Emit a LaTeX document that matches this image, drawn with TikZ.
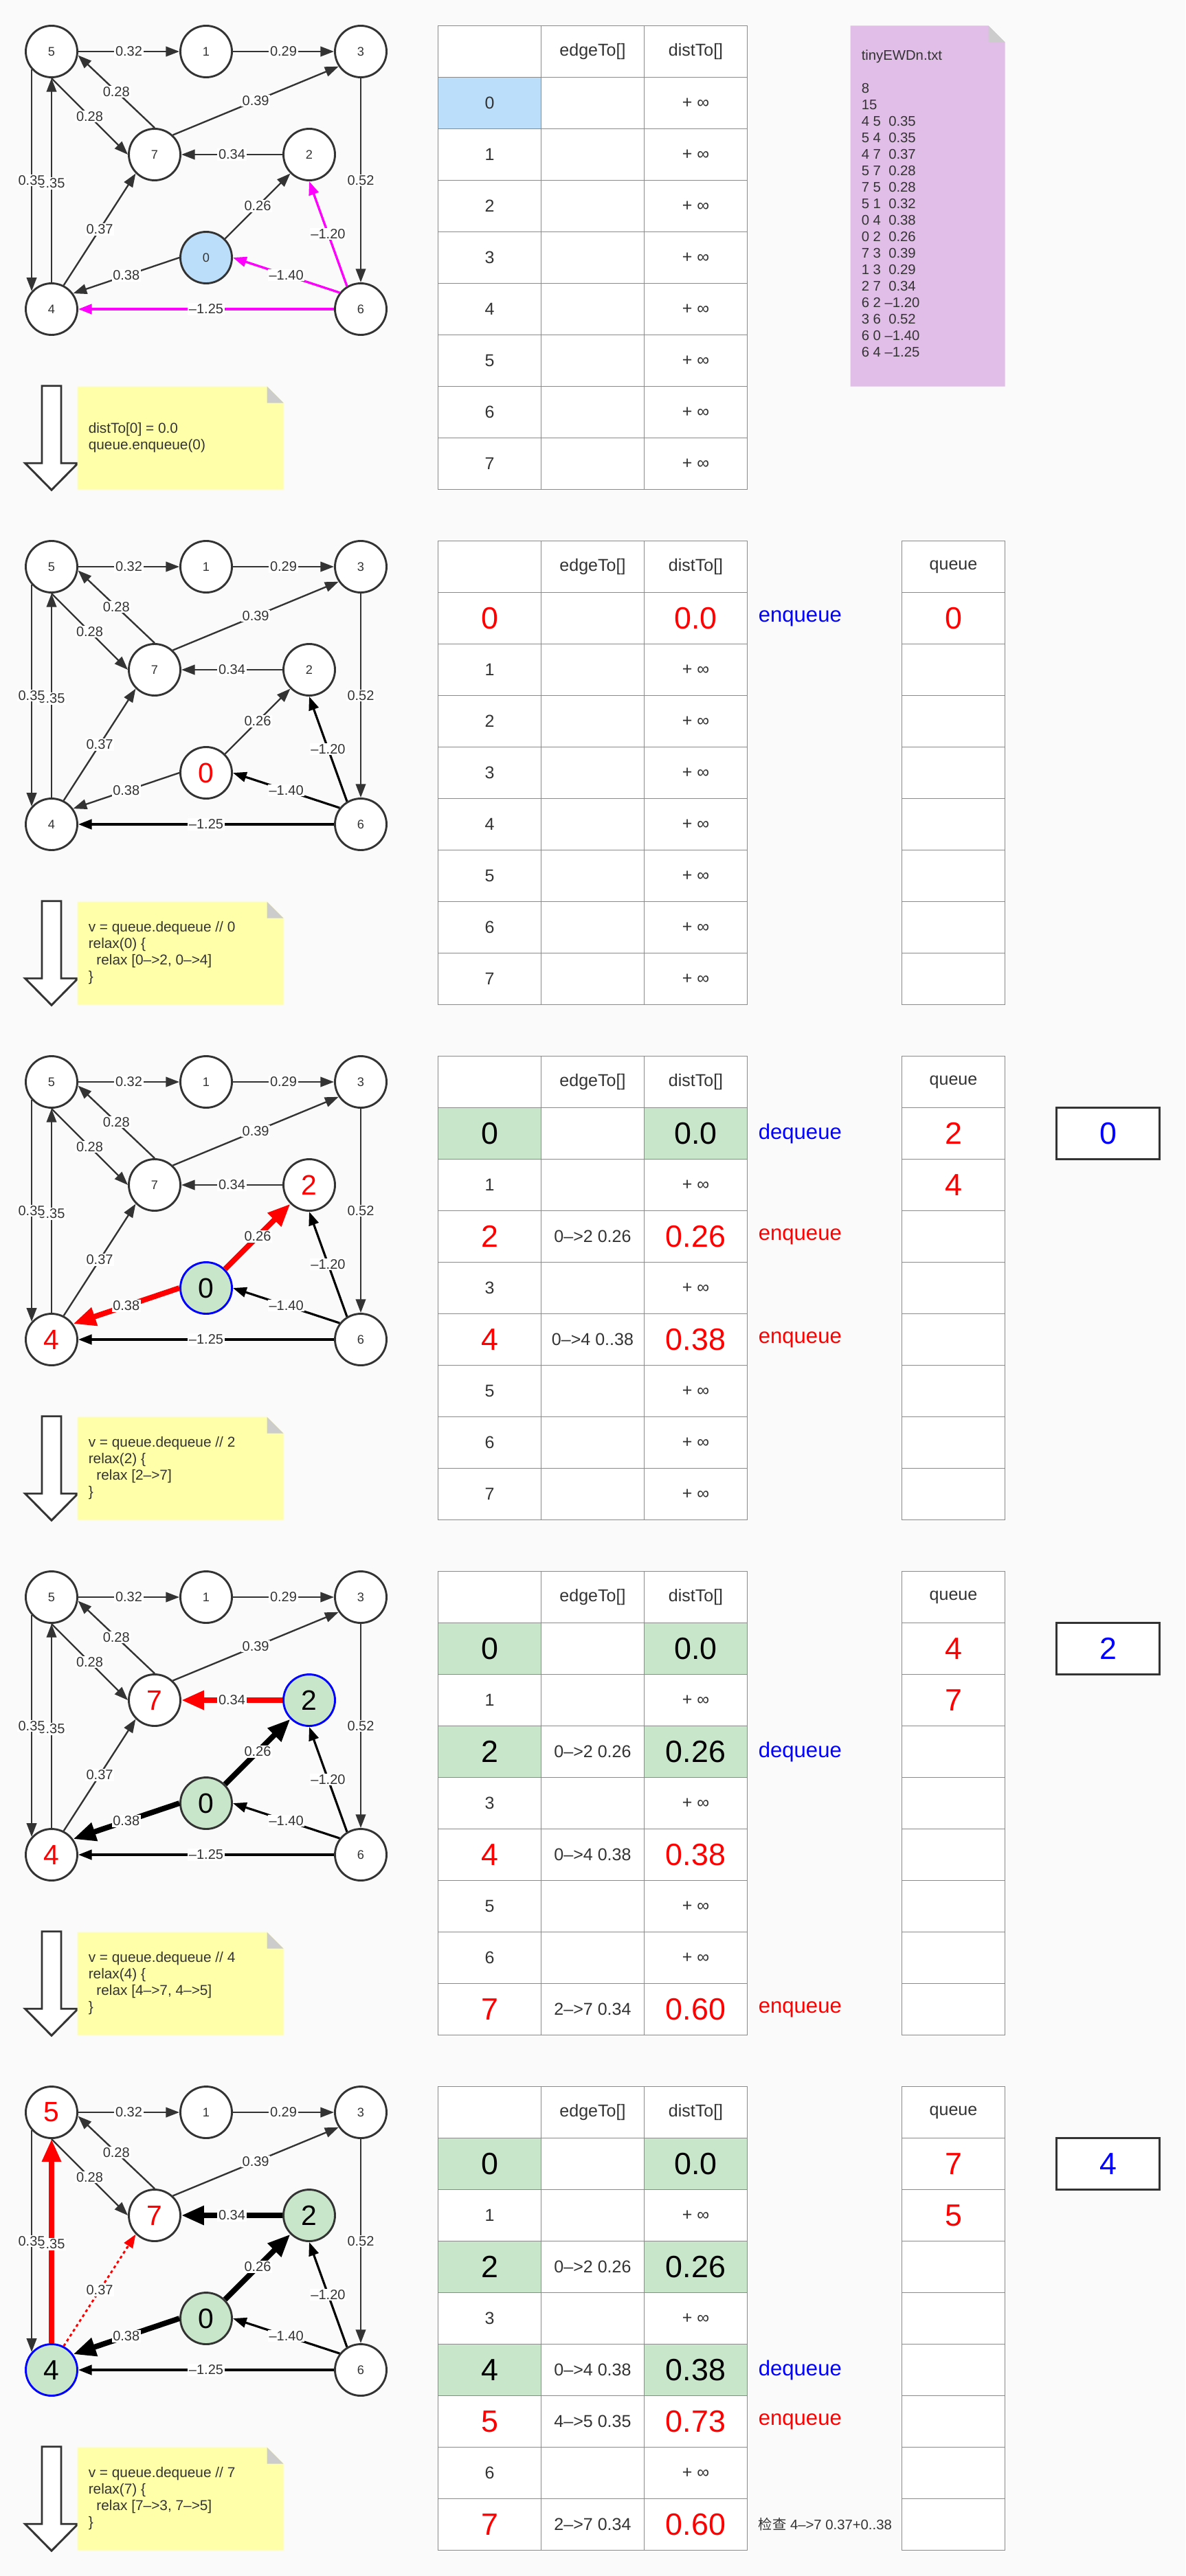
\documentclass[tikz,border=0pt]{standalone}
\usepackage{fontspec}
\setmainfont{Liberation Sans}
\newfontfamily\cjk{Noto Sans CJK SC}
\usetikzlibrary{arrows.meta}

\definecolor{bgc}{HTML}{FAFAFA}
\definecolor{textc}{HTML}{333333}
\definecolor{linec}{HTML}{333333}
\definecolor{gridc}{HTML}{8A8A8A}
\definecolor{startfill}{HTML}{BBDEFB}
\definecolor{donefill}{HTML}{C8E6C9}
\definecolor{notey}{HTML}{FFFFAA}
\definecolor{notep}{HTML}{E1BEE7}
\definecolor{foldc}{HTML}{CCCCCC}
\definecolor{mag}{HTML}{FF00FF}

\newcommand\vtxt{\fontsize{6.9}{8}\selectfont}
\newcommand\lbltxt{\fontsize{7.6}{9}\selectfont}
\newcommand\notetxt{\fontsize{7.9}{9.1}\selectfont}
\newcommand\filetxt{\fontsize{7.7}{9.1}\selectfont}
\newcommand\tabtxt{\fontsize{9.5}{11}\selectfont}
\newcommand\bigtxt{\fontsize{17}{20}\selectfont}
\newcommand\vbigtxt{\fontsize{15.5}{18}\selectfont}
\newcommand\acttxt{\fontsize{11.8}{14}\selectfont}
\newcommand\cntxt{\fontsize{7.7}{9}\selectfont}
\newcommand\pinf{+ ∞}

\tikzset{
  >={Triangle[length=7.5pt,width=5.5pt]},
  vertex/.style={circle,draw=linec,line width=1.1pt,fill=white,minimum size=1cm,inner sep=0pt,text=textc,font=\vtxt},
  startv/.style={fill=startfill},
  hotv/.style={text=red,font=\vbigtxt},
  donev/.style={fill=donefill,text=black,font=\vbigtxt},
  curv/.style={draw=blue},
  wedge/.style={draw=linec,line width=0.9pt,->},
  negedge/.style={draw=black,line width=1.2pt,->},
  magedge/.style={draw=mag,line width=1.25pt,->},
  thickred/.style={draw=red,line width=3pt,-{Triangle[length=12.5pt,width=10pt]}},
  thickblk/.style={draw=black,line width=3pt,-{Triangle[length=12.5pt,width=10pt]}},
  dotred/.style={draw=red,line width=1.1pt,dash pattern=on 1.6pt off 1.6pt,->},
  wlabel/.style={fill=white,inner sep=0.6pt,text=textc,font=\lbltxt},
  n0/.style={}, n1/.style={}, n2/.style={}, n3/.style={},
  n4/.style={}, n5/.style={}, n6/.style={}, n7/.style={},
  e51/.style={wedge}, e13/.style={wedge}, e57/.style={wedge}, e75/.style={wedge},
  e45/.style={wedge}, e54/.style={wedge}, e47/.style={wedge}, e73/.style={wedge},
  e27/.style={wedge}, e02/.style={wedge}, e36/.style={wedge}, e04/.style={wedge},
  e62/.style={negedge}, e60/.style={negedge}, e64/.style={negedge},
  tcell/.style={draw=gridc,line width=0.55pt,fill=white,minimum width=2cm,minimum height=1cm,inner sep=0pt,text=textc,font=\tabtxt},
  nostyle/.style={},
  startc/.style={fill=startfill},
  hotc/.style={text=red,font=\bigtxt},
  donec/.style={fill=donefill,text=black,font=\bigtxt},
  act/.style={anchor=west,inner sep=0pt,font=\acttxt},
  deq/.style={act,text=blue},
  enq/.style={act,text=red},
  curbox/.style={draw=linec,line width=1.4pt,fill=white,minimum width=2cm,minimum height=1cm,text=blue,font=\bigtxt},
  blockarrow/.style={draw=linec,line width=1.1pt,fill=white,line join=miter},
  notetext/.style={anchor=west,align=left,inner sep=0pt,text=textc,font=\notetxt},
  filetext/.style={anchor=north west,align=left,inner sep=0pt,text=textc,font=\filetxt},
}

% the graph, styled by n* and e* keys of the scope
\newcommand\drawgraph{%
  \node[vertex,n5] (v5) at (1,-1) {5};
  \node[vertex,n1] (v1) at (4,-1) {1};
  \node[vertex,n3] (v3) at (7,-1) {3};
  \node[vertex,n7] (v7) at (3,-3) {7};
  \node[vertex,n2] (v2) at (6,-3) {2};
  \node[vertex,n0] (v0) at (4,-5) {0};
  \node[vertex,n4] (v4) at (1,-6) {4};
  \node[vertex,n6] (v6) at (7,-6) {6};
  \draw[e51] (v5.east) -- node[wlabel] {0.32} (v1.west);
  \draw[e13] (v1.east) -- node[wlabel] {0.29} (v3.west);
  \draw[e57] (v5.south) -- node[wlabel] {0.28} (v7.west);
  \draw[e75] (v7.north) -- node[wlabel] {0.28} (v5.352);
  \draw[e45] (v4.north) -- node[wlabel,pos=0.485] {0.35} (v5.south);
  \draw[e54] (v5.222) -- node[wlabel] {0.35} (v4.138);
  \draw[e47] (v4.63) -- node[wlabel] {0.37} (v7.225);
  \draw[e73] (v7.47) -- node[wlabel] {0.39} (v3.214);
  \draw[e27] (v2.west) -- node[wlabel] {0.34} (v7.east);
  \draw[e02] (v0.45) -- node[wlabel] {0.26} (v2.225);
  \draw[e36] (v3.south) -- node[wlabel] {0.52} (v6.north);
  \draw[e62] (v6.121) -- node[wlabel] {–1.20} (v2.south);
  \draw[e60] (v6.142) -- node[wlabel] {–1.40} (v0.east);
  \draw[e64] (v6.west) -- node[wlabel] {–1.25} (v4.east);
  \draw[e04] (v0.west) -- node[wlabel] {0.38} (v4.36);
}

% down arrow and yellow note
\newcommand\stepnote[1]{%
  \draw[blockarrow] (0.813,-7.49) -- (1.187,-7.49) -- (1.187,-8.99) -- (1.513,-8.99)
    -- (1,-9.51) -- (0.487,-8.99) -- (0.813,-8.99) -- cycle;
  \fill[notey] (1.5,-7.5) -- (5.18,-7.5) -- (5.5,-7.82) -- (5.5,-9.5) -- (1.5,-9.5) -- cycle;
  \fill[foldc] (5.18,-7.5) -- (5.18,-7.82) -- (5.5,-7.82) -- cycle;
  \node[notetext] (note) at (1.71,-8.5) {#1};
}

% edgeTo / distTo table
\newcommand\tablerows[1]{%
  \node[tcell] (h0) at (9.5,-1) {};
  \node[tcell] (h1) at (11.5,-1) {edgeTo[]};
  \node[tcell] (h2) at (13.5,-1) {distTo[]};
  \foreach \r/\ks/\kt/\et/\ds/\dt in {#1}{
    \node[tcell,\ks] (k\r) at (9.5,-2-\r) {\kt};
    \node[tcell] (e\r) at (11.5,-2-\r) {\et};
    \node[tcell,\ds] (d\r) at (13.5,-2-\r) {\dt};
  }
}

% queue column
\newcommand\queuecol[1]{%
  \node[tcell] (qh) at (18.5,-1) {queue};
  \foreach \r in {0,...,7} \node[tcell] (q\r) at (18.5,-2-\r) {};
  \foreach \r/\t in {#1} \node[hotc] (qv\r) at (q\r) {\t};
}

\begin{document}
\begin{tikzpicture}
\fill[bgc] (0,0) rectangle (23,-50);
\useasboundingbox (0,0) rectangle (23,-50);

% start
\begin{scope}[name prefix=p1-, n0/.style={startv},
  e62/.style={magedge}, e60/.style={magedge}, e64/.style={magedge}]
  \drawgraph
  \stepnote{distTo[0] = 0.0\\queue.enqueue(0)}
  \tablerows{0/startc/0/{}/nostyle/\pinf, 1/nostyle/1/{}/nostyle/\pinf,
    2/nostyle/2/{}/nostyle/\pinf, 3/nostyle/3/{}/nostyle/\pinf,
    4/nostyle/4/{}/nostyle/\pinf, 5/nostyle/5/{}/nostyle/\pinf,
    6/nostyle/6/{}/nostyle/\pinf, 7/nostyle/7/{}/nostyle/\pinf}
  \fill[notep] (16.5,-0.5) -- (19.18,-0.5) -- (19.5,-0.82) -- (19.5,-7.5) -- (16.5,-7.5) -- cycle;
  \fill[foldc] (19.18,-0.5) -- (19.18,-0.82) -- (19.5,-0.82) -- cycle;
  \node[filetext] (ewd) at (16.71,-0.97) {tinyEWDn.txt\\[9.1pt]8\\15\\%
    4 5\ \ 0.35\\5 4\ \ 0.35\\4 7\ \ 0.37\\5 7\ \ 0.28\\7 5\ \ 0.28\\%
    5 1\ \ 0.32\\0 4\ \ 0.38\\0 2\ \ 0.26\\7 3\ \ 0.39\\1 3\ \ 0.29\\%
    2 7\ \ 0.34\\6 2 –1.20\\3 6\ \ 0.52\\6 0 –1.40\\6 4 –1.25};
\end{scope}

% dequeue 0
\begin{scope}[yshift=-10cm, name prefix=p2-, n0/.style={hotv}]
  \drawgraph
  \stepnote{v = queue.dequeue // 0\\relax(0) \{\\\hspace*{0.56em}relax [0–>2, 0–>4]\\\}}
  \tablerows{0/hotc/0/{}/hotc/0.0, 1/nostyle/1/{}/nostyle/\pinf,
    2/nostyle/2/{}/nostyle/\pinf, 3/nostyle/3/{}/nostyle/\pinf,
    4/nostyle/4/{}/nostyle/\pinf, 5/nostyle/5/{}/nostyle/\pinf,
    6/nostyle/6/{}/nostyle/\pinf, 7/nostyle/7/{}/nostyle/\pinf}
  \node[deq] (a0) at (14.71,-2) {enqueue};
  \queuecol{0/0}
\end{scope}

% dequeue 2
\begin{scope}[yshift=-20cm, name prefix=p3-, n0/.style={donev,curv},
  n2/.style={hotv}, n4/.style={hotv}, e02/.style={thickred}, e04/.style={thickred}]
  \drawgraph
  \stepnote{v = queue.dequeue // 2\\relax(2) \{\\\hspace*{0.56em}relax [2–>7]\\\}}
  \tablerows{0/donec/0/{}/donec/0.0, 1/nostyle/1/{}/nostyle/\pinf,
    2/hotc/2/0–>2 0.26/hotc/0.26, 3/nostyle/3/{}/nostyle/\pinf,
    4/hotc/4/0–>4 0..38/hotc/0.38, 5/nostyle/5/{}/nostyle/\pinf,
    6/nostyle/6/{}/nostyle/\pinf, 7/nostyle/7/{}/nostyle/\pinf}
  \node[deq] (a0) at (14.71,-2) {dequeue};
  \node[enq] (a2) at (14.71,-4) {enqueue};
  \node[enq] (a4) at (14.71,-6) {enqueue};
  \queuecol{0/2,1/4}
  \node[curbox] (cur) at (21.5,-2) {0};
\end{scope}

% dequeue 4
\begin{scope}[yshift=-30cm, name prefix=p4-, n0/.style={donev},
  n2/.style={donev,curv}, n4/.style={hotv}, n7/.style={hotv},
  e02/.style={thickblk}, e04/.style={thickblk}, e27/.style={thickred}]
  \drawgraph
  \stepnote{v = queue.dequeue // 4\\relax(4) \{\\\hspace*{0.56em}relax [4–>7, 4–>5]\\\}}
  \tablerows{0/donec/0/{}/donec/0.0, 1/nostyle/1/{}/nostyle/\pinf,
    2/donec/2/0–>2 0.26/donec/0.26, 3/nostyle/3/{}/nostyle/\pinf,
    4/hotc/4/0–>4 0.38/hotc/0.38, 5/nostyle/5/{}/nostyle/\pinf,
    6/nostyle/6/{}/nostyle/\pinf, 7/hotc/7/2–>7 0.34/hotc/0.60}
  \node[deq] (a2) at (14.71,-4) {dequeue};
  \node[enq] (a7) at (14.71,-9) {enqueue};
  \queuecol{0/4,1/7}
  \node[curbox] (cur) at (21.5,-2) {2};
\end{scope}

% dequeue 7
\begin{scope}[yshift=-40cm, name prefix=p5-, n0/.style={donev},
  n2/.style={donev}, n4/.style={donev,curv}, n5/.style={hotv}, n7/.style={hotv},
  e02/.style={thickblk}, e04/.style={thickblk}, e27/.style={thickblk},
  e45/.style={thickred}, e47/.style={dotred}]
  \drawgraph
  \stepnote{v = queue.dequeue // 7\\relax(7) \{\\\hspace*{0.56em}relax [7–>3, 7–>5]\\\}}
  \tablerows{0/donec/0/{}/donec/0.0, 1/nostyle/1/{}/nostyle/\pinf,
    2/donec/2/0–>2 0.26/donec/0.26, 3/nostyle/3/{}/nostyle/\pinf,
    4/donec/4/0–>4 0.38/donec/0.38, 5/hotc/5/4–>5 0.35/hotc/0.73,
    6/nostyle/6/{}/nostyle/\pinf, 7/hotc/7/2–>7 0.34/hotc/0.60}
  \node[deq] (a4) at (14.71,-6) {dequeue};
  \node[enq] (a5) at (14.71,-7) {enqueue};
  \node[act,text=textc,font=\cntxt] (chk) at (14.71,-9) {{\cjk 检查} 4–>7 0.37+0..38};
  \queuecol{0/7,1/5}
  \node[curbox] (cur) at (21.5,-2) {4};
\end{scope}
\end{tikzpicture}
\end{document}
